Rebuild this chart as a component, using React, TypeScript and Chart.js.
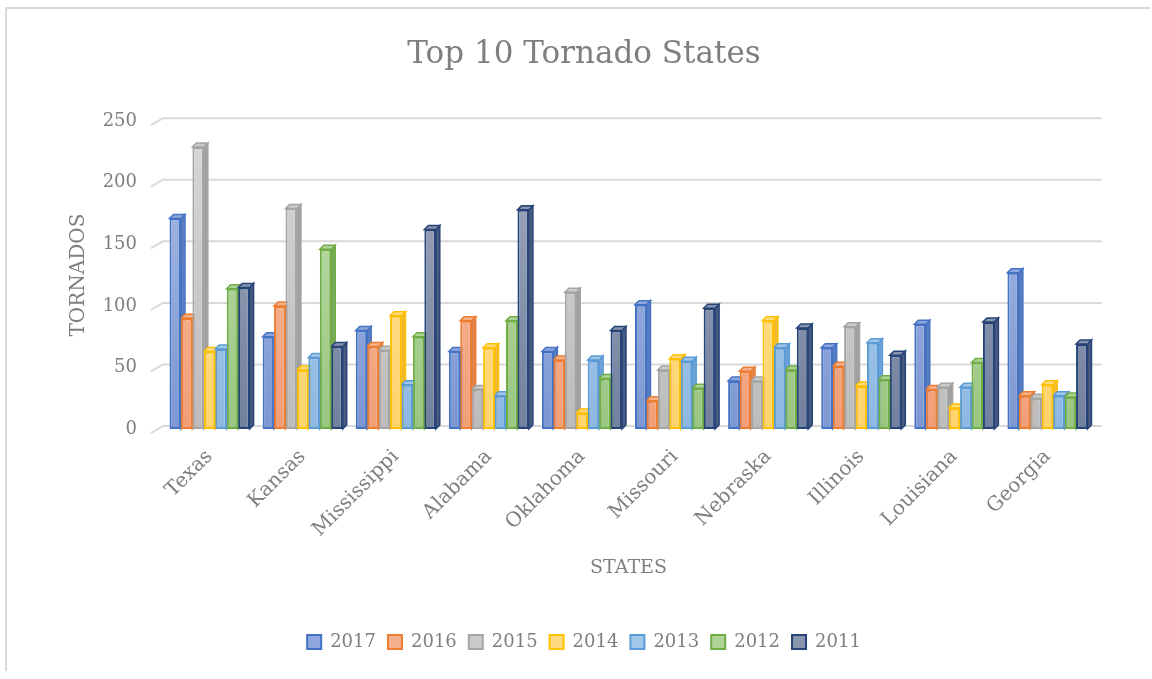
import { useEffect, useRef } from 'react';
import { Chart, registerables } from 'chart.js';

Chart.register(...registerables);

const categories = ['Texas', 'Kansas', 'Mississippi', 'Alabama', 'Oklahoma', 'Missouri', 'Nebraska', 'Illinois', 'Louisiana', 'Georgia'];
const years = ['2017', '2016', '2015', '2014', '2013', '2012', '2011'];
const v2017 = [171, 75, 80, 63, 63, 101, 39, 66, 85, 127];
const v2016 = [90, 100, 67, 88, 56, 23, 47, 51, 32, 27];
const v2015 = [229, 179, 64, 32, 111, 48, 39, 83, 34, 25];
const v2014 = [63, 48, 92, 66, 13, 57, 88, 35, 17, 36];
const v2013 = [65, 58, 36, 27, 56, 55, 66, 70, 34, 27];
const v2012 = [114, 146, 75, 88, 41, 33, 48, 40, 54, 26];
const v2011 = [115, 67, 162, 178, 80, 98, 82, 60, 87, 69];
const seriesValues = [v2017, v2016, v2015, v2014, v2013, v2012, v2011];
const yTicks = [0, 50, 100, 150, 200, 250];

const STY = [
  { border: '#4472C4', top: '#AABEE7', bottom: '#7C97D2', side: '#5A7DC0', cap: '#8EA8DD' },
  { border: '#ED7D31', top: '#F9C4A6', bottom: '#F29E77', side: '#E0854F', cap: '#F5B08C' },
  { border: '#A5A5A5', top: '#D8D8D8', bottom: '#BCBCBC', side: '#A0A0A0', cap: '#CACACA' },
  { border: '#FFC000', top: '#FFE6A0', bottom: '#FFD36C', side: '#EDB936', cap: '#FFDB80' },
  { border: '#5B9BD5', top: '#B8D5EF', bottom: '#8DB8E2', side: '#6EA2D6', cap: '#A2C6E8' },
  { border: '#70AD47', top: '#C3DFAE', bottom: '#9AC680', side: '#78AB57', cap: '#AED396' },
  { border: '#264478', top: '#A3ACBF', bottom: '#72809F', side: '#4A5A80', cap: '#8893AD' },
];

const FONT = "'DejaVu Serif', serif";
const TXT = '#7f7f7f';
const DEPTH = 4;

const threeD = {
  id: 'threeD',
  beforeDatasetsDraw(chart: any) {
    const ctx = chart.ctx;
    const ys = chart.scales.y;
    const area = chart.chartArea;
    ctx.save();
    ctx.strokeStyle = '#D9D9D9';
    ctx.lineWidth = 2;
    ys.ticks.forEach((t: any) => {
      const py = ys.getPixelForValue(t.value);
      ctx.beginPath();
      ctx.moveTo(area.left - 12, py + 4);
      ctx.lineTo(area.left, py - 3);
      ctx.lineTo(area.right + 8, py - 3);
      ctx.stroke();
    });
    chart.data.datasets.forEach((ds: any, i: number) => {
      const meta = chart.getDatasetMeta(i);
      const s = STY[i];
      meta.data.forEach((bar: any) => {
        const p = bar.getProps(['x', 'y', 'base', 'width'], true);
        const l = p.x - p.width / 2;
        const r = p.x + p.width / 2;
        const t = p.y;
        const b = p.base;
        ctx.lineWidth = 1.5;
        ctx.strokeStyle = s.border;
        ctx.fillStyle = s.side;
        ctx.beginPath();
        ctx.moveTo(r, t);
        ctx.lineTo(r + DEPTH, t - DEPTH);
        ctx.lineTo(r + DEPTH, b - DEPTH);
        ctx.lineTo(r, b);
        ctx.closePath();
        ctx.fill();
        ctx.stroke();
        ctx.fillStyle = s.cap;
        ctx.beginPath();
        ctx.moveTo(l, t);
        ctx.lineTo(l + DEPTH, t - DEPTH);
        ctx.lineTo(r + DEPTH, t - DEPTH);
        ctx.lineTo(r, t);
        ctx.closePath();
        ctx.fill();
        ctx.stroke();
      });
    });
    ctx.restore();
  },
};

export default function App() {
  const ref = useRef<HTMLCanvasElement>(null);

  useEffect(() => {
    if (!ref.current) return;
    const datasets = years.map((yr, i) => ({
      label: yr,
      data: seriesValues[i],
      borderColor: STY[i].border,
      borderWidth: 2,
      borderSkipped: false,
      backgroundColor: (c: any) => {
        const a = c.chart.chartArea;
        if (!a) return STY[i].cap;
        const g = c.chart.ctx.createLinearGradient(0, a.top, 0, a.bottom);
        g.addColorStop(0, STY[i].top);
        g.addColorStop(1, STY[i].bottom);
        return g;
      },
      categoryPercentage: 0.86,
      barPercentage: 1.0,
    }));

    const chart = new Chart(ref.current, {
      type: 'bar',
      data: { labels: categories, datasets },
      plugins: [threeD],
      options: {
        animation: false,
        responsive: false,
        layout: { padding: { left: 16, right: 0, top: 0, bottom: 18 } },
        plugins: {
          title: {
            display: true,
            text: 'Top 10 Tornado States',
            color: TXT,
            font: { family: FONT, size: 31, weight: 'normal' },
            padding: { top: 36, bottom: 48 },
          },
          legend: {
            position: 'bottom',
            labels: {
              color: TXT,
              font: { family: FONT, size: 18 },
              boxWidth: 14,
              boxHeight: 14,
              padding: 12,
              generateLabels: (chart: any) =>
                chart.data.datasets.map((ds: any, i: number) => ({
                  text: ds.label,
                  fillStyle: STY[i].cap,
                  strokeStyle: STY[i].border,
                  lineWidth: 2,
                  fontColor: TXT,
                  hidden: false,
                  datasetIndex: i,
                })),
            },
          },
          tooltip: { enabled: false },
        },
        scales: {
          x: {
            grid: { display: false },
            border: { display: false },
            ticks: {
              color: TXT,
              font: { family: FONT, size: 20 },
              minRotation: 45,
              maxRotation: 45,
              autoSkip: false,
              padding: 8,
            },
            title: {
              display: true,
              text: 'STATES',
              color: TXT,
              font: { family: FONT, size: 19 },
              padding: { top: 0, bottom: 42 },
            },
            afterFit: (s: any) => { s.height = 192; },
          },
          y: {
            min: 0,
            max: 250,
            grid: { display: false, drawTicks: false },
            border: { display: false },
            afterBuildTicks: (s: any) => { s.ticks = yTicks.map((v) => ({ value: v })); },
            ticks: {
              color: TXT,
              font: { family: FONT, size: 18 },
              padding: 26,
            },
            title: {
              display: true,
              text: 'TORNADOS',
              color: TXT,
              font: { family: FONT, size: 20 },
              padding: { top: 51, bottom: 0 },
            },
            afterFit: (s: any) => { s.width = 147; },
          },
          yRight: {
            position: 'right',
            display: true,
            grid: { display: false, drawTicks: false },
            border: { display: false },
            ticks: { display: false },
            afterFit: (s: any) => { s.width = 58; },
          },
        },
      },
    });
    return () => chart.destroy();
  }, []);

  return (
    <div style={{ position: 'fixed', left: 0, top: 0, width: 1152, height: 679, background: '#fff', overflow: 'hidden' }}>
      <div style={{ position: 'absolute', left: 5, top: 7, width: 1143, height: 662, borderTop: '2px solid #D9D9D9', borderLeft: '2px solid #D9D9D9' }} />
      <canvas ref={ref} width={1152} height={679} style={{ position: 'absolute', left: 0, top: 0 }} />
    </div>
  );
}
